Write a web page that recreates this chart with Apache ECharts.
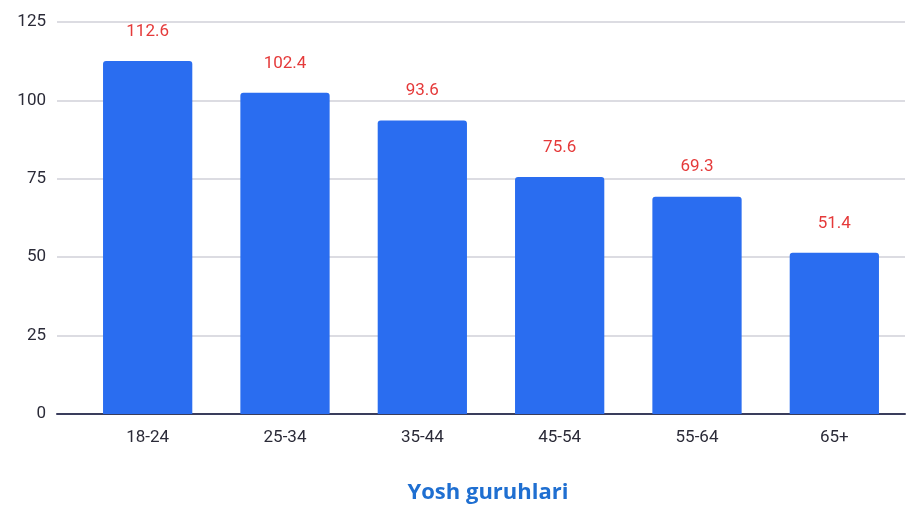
<!DOCTYPE html>
<html><head><meta charset="utf-8">
<script src="https://cdn.jsdelivr.net/npm/echarts@6/dist/echarts.min.js"></script>
<style>html,body{margin:0;padding:0;background:#fff}#c{width:910px;height:506px}</style>
</head><body><div id="c"></div>
<script>
const categories = ['18-24','25-34','35-44','45-54','55-64','65+'];
const values = [112.6, 102.4, 93.6, 75.6, 69.3, 51.4];
const yTicks = [0, 25, 50, 75, 100, 125];
const axisTitle = 'Yosh guruhlari';

const chart = echarts.init(document.getElementById('c'));
chart.setOption({
  animation: false,
  grid: [
    {left: 57, right: 5, top: 22, bottom: 92},
    {left: 79, right: 7, top: 22, bottom: 92}
  ],
  xAxis: [
    {gridIndex: 0, type: 'category', data: categories, axisLine: {show: true, lineStyle: {color: '#3a3d5c', width: 2}},
     axisTick: {show: false}, axisLabel: {show: false}},
    {gridIndex: 1, type: 'category', data: categories, axisLine: {show: false}, axisTick: {show: false},
     axisLabel: {color: '#2b2b38', fontSize: 17, fontFamily: 'Roboto', margin: 15}}
  ],
  yAxis: [
    {gridIndex: 0, type: 'value', min: yTicks[0], max: yTicks[yTicks.length-1], interval: 25,
     axisLine: {show: false}, axisTick: {show: false},
     axisLabel: {color: '#2b2b38', fontSize: 17, fontFamily: 'Roboto', margin: 11},
     splitLine: {lineStyle: {color: '#d0d0d8', width: 1.5}}},
    {gridIndex: 1, type: 'value', min: yTicks[0], max: yTicks[yTicks.length-1], interval: 25,
     show: false, splitLine: {show: false}}
  ],
  series: [{
    type: 'bar', xAxisIndex: 1, yAxisIndex: 1, data: values, barWidth: '65%',
    itemStyle: {color: '#2a6df0', borderRadius: [3,3,0,0]},
    label: {show: true, position: 'top', distance: 21, color: '#e53a3a', fontSize: 17, fontFamily: 'Roboto'},
    z: 3
  }],
  graphic: [{
    type: 'text', x: 488, y: 493,
    style: {text: axisTitle, fill: '#1f6fd1', fontSize: 22, fontWeight: 'bold', fontFamily: 'Open Sans', align: 'center', verticalAlign: 'middle'}
  }]
});
</script>
</body></html>
